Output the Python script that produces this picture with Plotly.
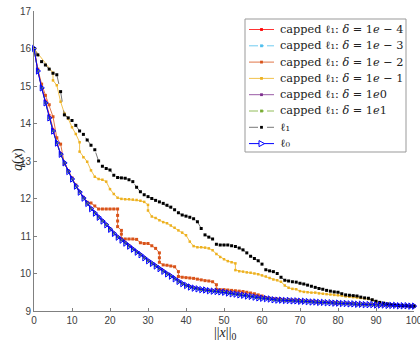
import plotly.graph_objects as go

# ---------------- data ----------------
x_int = list(range(0, 101))

q_l0 = [16.00, 15.40, 14.95, 14.55, 14.15, 13.80, 13.48, 13.18, 12.95, 12.72,
        12.52, 12.33, 12.17, 12.01, 11.87, 11.73, 11.61, 11.50, 11.40, 11.30,
        11.18, 11.07, 10.97, 10.89, 10.81, 10.73, 10.65, 10.57, 10.50, 10.42,
        10.34, 10.27, 10.20, 10.13, 10.06, 9.99, 9.93, 9.86, 9.79, 9.73,
        9.68, 9.64, 9.61, 9.59, 9.57, 9.56, 9.54, 9.53, 9.52, 9.51,
        9.50, 9.48, 9.46, 9.45, 9.43, 9.42, 9.40, 9.39, 9.37, 9.35,
        9.34, 9.33, 9.32, 9.30, 9.29, 9.29, 9.28, 9.28, 9.27, 9.27,
        9.26, 9.26, 9.25, 9.24, 9.24, 9.23, 9.23, 9.22, 9.22, 9.21,
        9.21, 9.20, 9.20, 9.19, 9.19, 9.18, 9.18, 9.17, 9.17, 9.17,
        9.16, 9.16, 9.16, 9.15, 9.15, 9.15, 9.14, 9.14, 9.14, 9.13, 9.13]

q_d1em4 = [16.00, 15.42, 14.98, 14.60, 14.22, 13.84, 13.50, 13.20, 12.96, 12.73,
           12.53, 12.34, 12.18, 12.02, 11.88, 11.74, 11.62, 11.51, 11.41, 11.31,
           11.19, 11.08, 10.98, 10.90, 10.82, 10.74, 10.66, 10.58, 10.51, 10.43,
           10.35, 10.28, 10.21, 10.14, 10.07, 10.00, 9.94, 9.87, 9.80, 9.74,
           9.69, 9.65, 9.62, 9.60, 9.58, 9.56, 9.55, 9.54, 9.53, 9.52,
           9.51, 9.49, 9.47, 9.46, 9.44, 9.43, 9.41, 9.39, 9.38, 9.36,
           9.35, 9.34, 9.32, 9.31, 9.30, 9.29, 9.28, 9.28, 9.27, 9.27,
           9.26, 9.26, 9.25, 9.25, 9.24, 9.23, 9.23, 9.22, 9.22, 9.21,
           9.21, 9.20, 9.20, 9.19, 9.19, 9.18, 9.18, 9.18, 9.17, 9.17,
           9.16, 9.16, 9.16, 9.15, 9.15, 9.15, 9.14, 9.14, 9.14, 9.13, 9.13]

q_d1em3 = [16.00, 15.41, 14.96, 14.56, 14.16, 13.81, 13.49, 13.19, 12.95, 12.72,
           12.52, 12.33, 12.17, 12.01, 11.87, 11.73, 11.61, 11.50, 11.40, 11.30,
           11.18, 11.07, 10.97, 10.89, 10.81, 10.73, 10.65, 10.57, 10.50, 10.42,
           10.34, 10.27, 10.20, 10.13, 10.06, 9.99, 9.93, 9.86, 9.79, 9.73,
           9.68, 9.64, 9.61, 9.59, 9.57, 9.56, 9.54, 9.53, 9.52, 9.51,
           9.50, 9.48, 9.46, 9.45, 9.43, 9.42, 9.40, 9.39, 9.37, 9.35,
           9.34, 9.33, 9.32, 9.30, 9.29, 9.29, 9.28, 9.28, 9.27, 9.27,
           9.26, 9.26, 9.25, 9.24, 9.24, 9.23, 9.23, 9.22, 9.22, 9.21,
           9.21, 9.20, 9.20, 9.19, 9.19, 9.18, 9.18, 9.17, 9.17, 9.17,
           9.16, 9.16, 9.16, 9.15, 9.15, 9.15, 9.14, 9.14, 9.14, 9.13, 9.13]

x_d1em2 = [0, 1, 2, 3, 4, 5, 6, 7, 8, 9, 10, 11, 12, 13, 14, 15, 16, 17, 18, 19,
           20, 21, 22, 22, 22, 22, 23, 23, 23, 24, 25, 26, 27, 28, 29, 30, 31, 32,
           33, 33, 33, 34, 35, 36, 37, 38, 38, 39, 40, 41, 42, 43, 44, 45, 46, 47,
           48, 48, 49, 50, 51, 52, 53, 54, 55, 56, 57, 58, 59, 60, 61, 62, 63, 64,
           65, 66, 67, 68, 69, 70, 71, 72, 73, 74, 75, 76, 77, 78, 79, 80, 81, 82,
           83, 84, 85, 86, 87, 88, 89, 90, 91, 92, 93, 94, 95, 96, 97, 98, 99, 100]
q_d1em2 = [16.00, 15.45, 15.05, 14.75, 14.50, 14.18, 13.62, 13.45, 12.93, 12.74,
           12.55, 12.36, 12.18, 12.03, 11.90, 11.88, 11.80, 11.72, 11.72, 11.72,
           11.72, 11.72, 11.72, 11.55, 11.40, 11.25, 11.15, 11.05, 10.93, 10.92,
           10.92, 10.92, 10.91, 10.82, 10.80, 10.80, 10.74, 10.67,
           10.55, 10.42, 10.30, 10.23, 10.22, 10.20, 10.18, 10.05, 9.92, 9.90,
           9.89, 9.88, 9.87, 9.85, 9.83, 9.81, 9.80, 9.78,
           9.70, 9.58, 9.57, 9.57, 9.56, 9.55, 9.54, 9.53, 9.52, 9.50, 9.48,
           9.46, 9.43, 9.40, 9.36, 9.34, 9.33, 9.32,
           9.31, 9.30, 9.30, 9.29, 9.29, 9.28, 9.27, 9.26, 9.26, 9.25, 9.24,
           9.24, 9.23, 9.23, 9.22, 9.22, 9.21, 9.21,
           9.20, 9.20, 9.19, 9.19, 9.18, 9.18, 9.17, 9.17, 9.16, 9.16, 9.15,
           9.15, 9.15, 9.14, 9.14, 9.14, 9.13, 9.13]

x_d1em1 = [0, 5, 5, 6, 7, 8, 9, 10, 11, 12, 12, 13, 14, 15, 16, 17, 18, 19, 20,
           21, 22, 23, 24, 25, 26, 27, 28, 29, 30, 30, 31, 32, 33, 34, 35, 36, 37,
           38, 39, 40, 41, 42, 43, 44, 45, 46, 47, 48, 49, 50, 51, 52, 53, 53, 54,
           55, 56, 57, 58, 59, 60, 61, 62, 63, 64, 65, 66, 67, 68, 69, 70, 71, 72,
           73, 74, 75, 76, 77, 78, 79, 80, 81, 82, 83, 84, 85, 86, 87, 88, 89, 90,
           91, 92, 93, 94, 95, 96, 97, 98, 99, 100]
q_d1em1 = [16.00, 15.35, 15.15, 15.02, 14.58, 14.27, 14.13, 13.90, 13.72, 13.50,
           13.25, 13.10, 12.98, 12.75, 12.58, 12.52, 12.50, 12.45, 12.25,
           12.12, 12.02, 11.99, 11.98, 11.98, 11.97, 11.96, 11.94, 11.91, 11.83,
           11.68, 11.52, 11.48, 11.42, 11.37, 11.34, 11.28, 11.22,
           11.15, 11.09, 11.02, 10.85, 10.73, 10.70, 10.70, 10.69, 10.67, 10.62,
           10.52, 10.44, 10.38, 10.33, 10.30, 10.27, 10.09, 10.06,
           10.05, 10.03, 10.02, 10.00, 9.98, 9.95, 9.92, 9.88, 9.84, 9.82, 9.78,
           9.68, 9.62, 9.59, 9.58, 9.53, 9.51, 9.50,
           9.49, 9.49, 9.47, 9.46, 9.45, 9.44, 9.43, 9.42, 9.41, 9.39, 9.38,
           9.37, 9.36, 9.35, 9.34, 9.32, 9.29, 9.25,
           9.22, 9.20, 9.18, 9.16, 9.15, 9.14, 9.14, 9.13, 9.13, 9.13]

q_d1e0 = [16.00, 15.41, 14.96, 14.56, 14.16, 13.81, 13.49, 13.19, 12.96, 12.73,
          12.53, 12.34, 12.18, 12.02, 11.88, 11.74, 11.62, 11.51, 11.41, 11.31,
          11.19, 11.08, 10.98, 10.90, 10.82, 10.74, 10.66, 10.58, 10.51, 10.43,
          10.35, 10.28, 10.21, 10.14, 10.07, 10.00, 9.94, 9.87, 9.80, 9.74,
          9.69, 9.65, 9.62, 9.60, 9.58, 9.56, 9.55, 9.54, 9.53, 9.52,
          9.51, 9.49, 9.47, 9.46, 9.44, 9.43, 9.41, 9.39, 9.38, 9.36,
          9.35, 9.34, 9.32, 9.31, 9.30, 9.29, 9.28, 9.28, 9.27, 9.27,
          9.26, 9.26, 9.25, 9.25, 9.24, 9.23, 9.23, 9.22, 9.22, 9.21,
          9.21, 9.20, 9.20, 9.19, 9.19, 9.18, 9.18, 9.18, 9.17, 9.17,
          9.16, 9.16, 9.16, 9.15, 9.15, 9.15, 9.14, 9.14, 9.14, 9.13, 9.13]

q_d1e1 = [16.00, 15.40, 14.95, 14.55, 14.15, 13.80, 13.48, 13.18, 12.95, 12.72,
          12.52, 12.33, 12.17, 12.01, 11.87, 11.73, 11.61, 11.50, 11.40, 11.30,
          11.18, 11.07, 10.97, 10.89, 10.81, 10.73, 10.65, 10.57, 10.50, 10.42,
          10.34, 10.27, 10.20, 10.13, 10.06, 9.99, 9.93, 9.86, 9.79, 9.73,
          9.68, 9.64, 9.61, 9.59, 9.57, 9.56, 9.54, 9.53, 9.52, 9.51,
          9.50, 9.48, 9.46, 9.45, 9.43, 9.42, 9.40, 9.39, 9.37, 9.35,
          9.34, 9.33, 9.32, 9.30, 9.29, 9.29, 9.28, 9.28, 9.27, 9.27,
          9.26, 9.26, 9.25, 9.24, 9.24, 9.23, 9.23, 9.22, 9.22, 9.21,
          9.21, 9.20, 9.20, 9.19, 9.19, 9.18, 9.18, 9.17, 9.17, 9.17,
          9.16, 9.16, 9.16, 9.15, 9.15, 9.15, 9.14, 9.14, 9.14, 9.13, 9.13]

q_l1 = [16.00, 15.83, 15.65, 15.56, 15.45, 15.34, 15.30, 14.85, 14.23, 14.15,
        14.08, 13.95, 13.80, 13.71, 13.56, 13.42, 13.30, 13.00, 12.86, 12.80,
        12.76, 12.62, 12.56, 12.55, 12.54, 12.50, 12.45, 12.30, 12.18, 12.10,
        12.05, 12.00, 11.95, 11.91, 11.87, 11.82, 11.77, 11.70, 11.62, 11.56,
        11.53, 11.50, 11.46, 11.38, 11.20, 11.03, 10.97, 10.92, 10.78, 10.76,
        10.76, 10.76, 10.74, 10.72, 10.68, 10.63, 10.55, 10.46, 10.40, 10.34,
        10.25, 10.10, 10.07, 10.05, 10.00, 9.90, 9.82, 9.80, 9.78, 9.77,
        9.74, 9.72, 9.69, 9.66, 9.63, 9.60, 9.58, 9.55, 9.53, 9.51,
        9.50, 9.46, 9.43, 9.42, 9.41, 9.40, 9.37, 9.35, 9.34, 9.30,
        9.26, 9.23, 9.21, 9.19, 9.17, 9.16, 9.15, 9.14, 9.14, 9.13, 9.13]

series_names = [
    "capped ℓ₁: <i>δ</i> = 1<i>e</i> − 4",
    "capped ℓ₁: <i>δ</i> = 1<i>e</i> − 3",
    "capped ℓ₁: <i>δ</i> = 1<i>e</i> − 2",
    "capped ℓ₁: <i>δ</i> = 1<i>e</i> − 1",
    "capped ℓ₁: <i>δ</i> = 1<i>e</i>0",
    "capped ℓ₁: <i>δ</i> = 1<i>e</i>1",
    "ℓ₁",
    "ℓ₀",
]
x_ticks = [0, 10, 20, 30, 40, 50, 60, 70, 80, 90, 100]
y_ticks = [9, 10, 11, 12, 13, 14, 15, 16, 17]

# ---------------- styles ----------------
styles = [
    dict(color="#FF0000", dash="solid", sym="square", size=2.5, lcolor="#FF0000", lw=0.8),
    dict(color="#4DBEEE", dash="dashdot", sym="square", size=2.5, lcolor="#4DBEEE", lw=0.8),
    dict(color="#D95319", dash="solid", sym="square", size=3, lcolor="#D95319", lw=0.8),
    dict(color="#EDB120", dash="solid", sym="square", size=2.5, lcolor="#EDB120", lw=0.8),
    dict(color="#7E2F8E", dash="solid", sym="square", size=2.5, lcolor="#7E2F8E", lw=0.8),
    dict(color="#77AC30", dash="dashdot", sym="square", size=2.5, lcolor="#77AC30", lw=0.8),
    dict(color="#000000", dash="dash", sym="square", size=3, lcolor="#555555", lw=0.8),
    dict(color="#0000FF", dash="solid", sym="triangle-right-open", size=5.5, lcolor="#0000FF", lw=1.0),
]
series_x = [x_int, x_int, x_d1em2, x_d1em1, x_int, x_int, x_int, x_int]
series_y = [q_d1em4, q_d1em3, q_d1em2, q_d1em1, q_d1e0, q_d1e1, q_l1, q_l0]

fig = go.Figure()
for xs, ys, nm, st in zip(series_x, series_y, series_names, styles):
    fig.add_trace(go.Scatter(
        x=xs, y=ys, name=nm, mode="lines+markers", showlegend=False,
        line=dict(color=st["lcolor"], width=st["lw"], dash=st["dash"]),
        marker=dict(symbol=st["sym"], size=st["size"], color=st["color"]),
        cliponaxis=False, hoverinfo="skip",
    ))

# ---------------- legend (drawn as shapes + text, MATLAB-like compact rows) ----------------
L, T, W, H = 34, 11, 380, 300          # plot box in pixels
def px(p):
    return (p - L) / W
def py(p):
    return 1 - (p - T) / H

shapes = [dict(type="rect", xref="paper", yref="paper",
               x0=px(245), x1=px(406), y0=py(19), y1=py(152),
               line=dict(color="#999999", width=1), fillcolor="white", layer="above")]
annotations = []
row0, step = 29.5, 16.3
for i, (nm, st) in enumerate(zip(series_names, styles)):
    yc = row0 + i * step
    shapes.append(dict(type="line", xref="paper", yref="paper",
                       x0=px(249), x1=px(274), y0=py(yc), y1=py(yc),
                       line=dict(color=st["lcolor"], width=st["lw"], dash=st["dash"]),
                       layer="above"))
    if st["sym"] == "square":
        h = 1.4
        shapes.append(dict(type="rect", xref="paper", yref="paper",
                           x0=px(261.5 - h), x1=px(261.5 + h), y0=py(yc + h), y1=py(yc - h),
                           line=dict(width=0), fillcolor=st["color"], layer="above"))
    else:
        path = "M {:.5f},{:.5f} L {:.5f},{:.5f} L {:.5f},{:.5f} Z".format(
            px(259), py(yc - 3), px(264.5), py(yc), px(259), py(yc + 3))
        shapes.append(dict(type="path", xref="paper", yref="paper", path=path,
                           line=dict(color=st["color"], width=1), fillcolor="white",
                           layer="above"))
    annotations.append(dict(text=nm, xref="paper", yref="paper", x=px(278), y=py(yc),
                            xanchor="left", yanchor="middle", showarrow=False,
                            font=dict(family="DejaVu Serif, Liberation Serif, serif",
                                      size=11.3, color="#222222")))

annotations += [
    dict(text="<i>q</i>(<i>x</i>)", xref="paper", yref="paper", x=px(18), y=py(160),
         textangle=-90, showarrow=False, xanchor="center", yanchor="middle",
         font=dict(family="Liberation Serif, DejaVu Serif, serif", size=14, color="#222222")),
    dict(text="||<i>x</i>||<sub>0</sub>", xref="paper", yref="paper", x=px(225), y=py(333),
         showarrow=False, xanchor="center", yanchor="middle",
         font=dict(family="Liberation Serif, DejaVu Serif, serif", size=14, color="#222222")),
]

axis_common = dict(
    showline=True, linecolor="#808080", linewidth=1,
    ticks="inside", ticklen=3, tickcolor="#808080",
    showgrid=False, zeroline=False, mirror=False, automargin=False,
    ticklabeloverflow="allow",
    tickfont=dict(family="Liberation Sans, Arial, sans-serif", size=10, color="#404040"),
)

fig.update_layout(
    width=420, height=342,
    margin=dict(l=34, r=6, t=11, b=31, autoexpand=False),
    plot_bgcolor="white", paper_bgcolor="white",
    xaxis=dict(range=[0, 100], tickvals=x_ticks, **axis_common),
    yaxis=dict(range=[9, 17], tickvals=y_ticks, **axis_common),
    showlegend=False,
    hovermode=False,
    shapes=shapes,
    annotations=annotations,
)

# remove the default 8px page margin so the figure sits at the window origin
fig.write_html("out.html", config={"displayModeBar": False, "staticPlot": True},
               post_script="document.body.style.margin='0px';")
